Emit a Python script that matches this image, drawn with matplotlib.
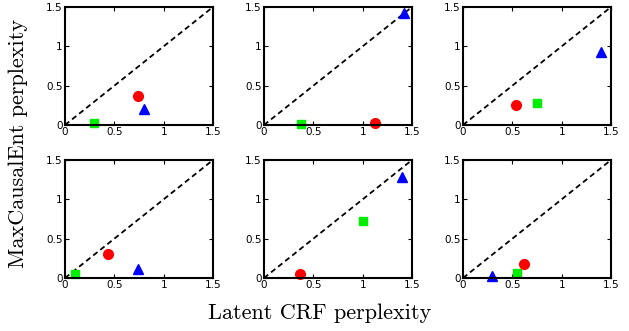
import matplotlib.pyplot as plt

# --- data (latent CRF perplexity, MaxCausalEnt perplexity) per panel ---
red_x = [0.74, 1.12, 0.54, 0.44, 0.36, 0.62]
red_y = [0.37, 0.03, 0.26, 0.30, 0.05, 0.18]
green_x = [0.29, 0.37, 0.75, 0.10, 1.00, 0.55]
green_y = [0.02, 0.01, 0.28, 0.05, 0.73, 0.06]
blue_x = [0.80, 1.42, 1.40, 0.74, 1.40, 0.29]
blue_y = [0.20, 1.43, 0.93, 0.12, 1.29, 0.03]
ticks = [0, 0.5, 1, 1.5]
tick_labels = ['0', '0.5', '1', '1.5']

W, H = 629, 331
fig = plt.figure(figsize=(W / 100, H / 100), dpi=100)

lefts = [65, 264, 463]
tops = [7, 160]
aw, ah = 148, 118

for k in range(6):
    r, c = divmod(k, 3)
    ax = fig.add_axes([lefts[c] / W, 1 - (tops[r] + ah) / H, aw / W, ah / H])
    ax.plot([0, 1.5], [0, 1.5], 'k--', lw=1.3, dashes=(3, 2))
    ax.plot(green_x[k], green_y[k], 's', color='#00ee00', ms=6, clip_on=False)
    ax.plot(red_x[k], red_y[k], 'o', color='red', ms=7, clip_on=False)
    ax.plot(blue_x[k], blue_y[k], '^', color='blue', ms=7, clip_on=False)
    ax.set_xlim(0, 1.5)
    ax.set_ylim(0, 1.5)
    ax.set_xticks(ticks)
    ax.set_yticks(ticks)
    ax.set_xticklabels(tick_labels)
    ax.set_yticklabels(tick_labels)
    ax.tick_params(direction='in', top=True, right=True, length=3, width=0.8,
                   labelsize=7.5, pad=1.5)
    for s in ax.spines.values():
        s.set_linewidth(1.5)

fig.text(320 / W, 1 - 313 / H, 'Latent CRF perplexity', family='cmr10',
         fontsize=16, ha='center', va='center')
fig.text(18 / W, 1 - 143 / H, 'MaxCausalEnt perplexity', family='cmr10',
         fontsize=16, ha='center', va='center', rotation=90)

fig.savefig('out.png', dpi=100)
